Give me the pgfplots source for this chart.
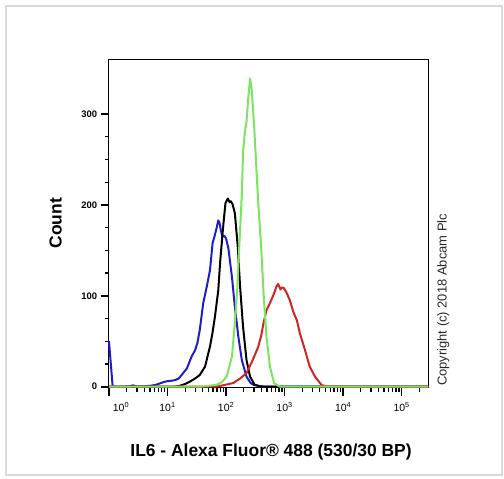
\documentclass[border=0pt]{standalone}
\usepackage{fontspec}
\setmainfont{Liberation Sans}
\usepackage{pgfplots}
\pgfplotsset{compat=1.18}

\definecolor{cblue}{RGB}{30,30,200}
\definecolor{cred}{RGB}{210,35,35}
\definecolor{cgreen}{RGB}{125,228,95}

\begin{document}
\begin{tikzpicture}
\path (0bp,0bp) rectangle (504bp,479bp);
\draw[black!15, line width=1.2bp] (6bp,4bp) rectangle (502bp,473bp);

\begin{axis}[
    at={(108.7bp,91.3bp)}, anchor=south west,
    scale only axis,
    width=319.6bp, height=327.7bp,
    xmin=-0.005, xmax=5.455,
    ymin=-1.1, ymax=359.4,
    axis line style={black, line width=1bp},
    tick align=outside,
    tick pos=left,
    major tick length=8bp,
    minor tick length=4bp,
    tick style={black, line width=1.2bp},
    major tick style={black, line width=1.6bp},
    ytick={0,100,200,300},
    minor y tick num=3,
    xtick={0,1,2,3,4,5},
    xticklabels={\hspace{24bp}10\textsuperscript{0},10\textsuperscript{1},10\textsuperscript{2},10\textsuperscript{3},10\textsuperscript{4},10\textsuperscript{5}},
    minor xtick={0.301,0.477,0.602,0.699,0.778,0.845,0.903,0.954,1.301,1.477,1.602,1.699,1.778,1.845,1.903,1.954,2.301,2.477,2.602,2.699,2.778,2.845,2.903,2.954,3.301,3.477,3.602,3.699,3.778,3.845,3.903,3.954,4.301,4.477,4.602,4.699,4.778,4.845,4.903,4.954,5.301},
    /pgf/number format/assume math mode=true,
    yticklabel style={font=\fontsize{9.5}{10}\selectfont\bfseries},
    xticklabel style={font=\fontsize{10.5}{11}\selectfont, yshift=-3bp},
    xlabel={IL6 - Alexa Fluor® 488 (530/30 BP)},
    ylabel={Count},
    xlabel style={at={(axis description cs:0.508,-0.1953)}, anchor=center,
        font=\fontsize{17.5}{20}\selectfont\bfseries},
    ylabel style={at={(axis description cs:-0.1658,0.502)}, anchor=center,
        font=\fontsize{17.5}{20}\selectfont\bfseries},
    every axis plot/.append style={line width=2bp, line join=round},
    clip=false,
]

% blue
\addplot[cblue] coordinates {
 (0,50) (0.063,0) (0.2,0) (0.35,0.5) (0.41,1.5) (0.47,0.3) (0.6,0.5)
 (0.7,1) (0.8,2) (0.93,5) (0.99,6) (1.06,6.5) (1.13,7.3) (1.19,9)
 (1.24,12.8) (1.33,20) (1.41,33) (1.47,40) (1.51,48) (1.55,62) (1.61,92)
 (1.67,110) (1.725,128) (1.77,158) (1.81,167) (1.84,175) (1.867,183)
 (1.89,180) (1.91,172) (1.94,165) (1.97,166) (2.0,163) (2.04,152)
 (2.1,121) (2.15,88) (2.21,55) (2.27,29) (2.35,11) (2.42,4) (2.47,2)
 (2.58,0.5) (2.68,0) (5.455,0)
};

% black
\addplot[black] coordinates {
 (0,0) (1.1,0) (1.21,1) (1.3,3) (1.38,5.5) (1.47,9) (1.55,12.8) (1.64,22)
 (1.725,44) (1.77,60) (1.81,77) (1.867,106) (1.9,138) (1.95,176)
 (1.99,202) (2.03,207) (2.06,203) (2.08,204) (2.11,201) (2.15,191)
 (2.2,154) (2.24,110) (2.29,66) (2.35,29) (2.41,11) (2.49,2) (2.58,0.5)
 (2.67,0) (5.455,0)
};

% red
\addplot[cred] coordinates {
 (0,0) (1.84,0) (1.98,2) (2.12,4) (2.24,9) (2.35,15) (2.46,30) (2.55,44)
 (2.6,56) (2.64,70) (2.69,84) (2.75,92) (2.81,101) (2.86,110) (2.89,113)
 (2.93,107) (2.95,109) (2.98,109) (3.03,104) (3.09,95) (3.15,82)
 (3.21,73) (3.26,59) (3.35,40) (3.43,22) (3.52,11) (3.63,2) (3.72,0)
 (5.455,0)
};

% green
\addplot[cgreen] coordinates {
 (0,0) (1.55,0) (1.7,1) (1.84,2) (1.93,5) (2.01,11) (2.1,33) (2.15,70)
 (2.19,106) (2.23,160) (2.27,213) (2.29,257) (2.32,280) (2.35,292)
 (2.38,318) (2.41,339) (2.44,326) (2.48,286) (2.52,238) (2.55,202)
 (2.6,154) (2.64,103) (2.69,55) (2.75,22) (2.82,4) (2.92,0) (5.455,0)
};

\end{axis}

\node[rotate=90, font=\fontsize{13}{15}\selectfont, text=black!85] at (443.3bp,179.1bp) {Copyright (c) 2018 Abcam Plc};
\end{tikzpicture}
\end{document}
